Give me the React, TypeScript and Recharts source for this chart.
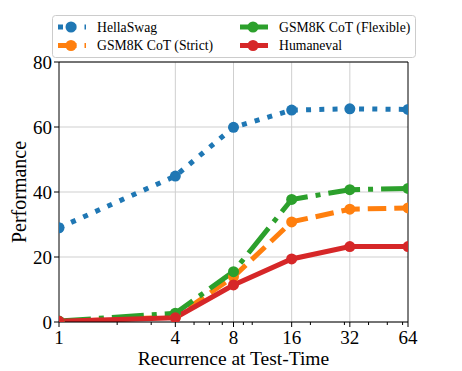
import React from "react";
import {
  LineChart,
  Line,
  XAxis,
  YAxis,
  CartesianGrid,
  ReferenceLine,
  Legend,
} from "recharts";

// Valores (eixo x em escala log, base 2)
const RECURRENCE = [1, 4, 8, 16, 32, 64];
const HELLASWAG = [29.0, 44.9, 59.9, 65.2, 65.6, 65.4];
const GSM8K_STRICT = [0.0, 1.6, 13.9, 30.8, 34.7, 35.1];
const GSM8K_FLEXIBLE = [0.3, 2.7, 15.5, 37.7, 40.7, 41.1];
const HUMANEVAL = [0.2, 1.3, 11.4, 19.4, 23.2, 23.2];

const MAJOR_TICKS = [1, 4, 8, 16, 32, 64];
const MINOR_TICKS = [2, 3, 5, 6, 7, 9, 10, 20, 30, 40, 50, 60];
const GRID_X = [4, 8, 16, 32];
const Y_TICKS = [0, 20, 40, 60, 80];

const FONT = "'Liberation Serif', 'DejaVu Serif', serif";
const LW = 5;

const SERIES = [
  { key: "hellaswag", name: "HellaSwag", color: "#1f77b4", dash: `${LW} ${LW * 1.65}` },
  { key: "strict", name: "GSM8K CoT (Strict)", color: "#ff7f0e", dash: `${LW * 3.7} ${LW * 1.6}` },
  { key: "flexible", name: "GSM8K CoT (Flexible)", color: "#2ca02c", dash: `${LW * 6.4} ${LW * 1.6} ${LW} ${LW * 1.6}` },
  { key: "humaneval", name: "Humaneval", color: "#d62728", dash: undefined as string | undefined },
];

const data = RECURRENCE.map((r, i) => ({
  r,
  hellaswag: HELLASWAG[i],
  strict: GSM8K_STRICT[i],
  flexible: GSM8K_FLEXIBLE[i],
  humaneval: HUMANEVAL[i],
}));

// tick do eixo x: traço maior com rótulo, traço menor sem rótulo
function RecurrenceTick(props: any) {
  const { x, y, payload } = props;
  const major = MAJOR_TICKS.includes(payload.value);
  return (
    <g>
      <line x1={x} x2={x} y1={y} y2={y + (major ? 5 : 3)} stroke="#000" strokeWidth={1} />
      {major && (
        <text x={x} y={y + 8} dy="0.75em" textAnchor="middle" fontSize={19} fill="#000" style={{ fontFamily: FONT }}>
          {payload.value}
        </text>
      )}
    </g>
  );
}

function SeriesLegend() {
  const colX = [6, 188];
  const rowY = [12, 30.5];
  return (
    <svg width={364} height={43} style={{ display: "block", fontFamily: FONT }}>
      <rect x={0.5} y={0.5} width={363} height={42} rx={3} fill="#fff" fillOpacity={0.8} stroke="#cccccc" />
      {SERIES.map((s, i) => {
        const x = colX[Math.floor(i / 2)];
        const y = rowY[i % 2];
        return (
          <g key={s.key}>
            <line x1={x} x2={x + 28} y1={y} y2={y} stroke={s.color} strokeWidth={LW} strokeDasharray={s.dash} />
            <circle cx={x + 13} cy={y} r={5.5} fill={s.color} />
            <text x={x + 39} y={y} dy="0.35em" fontSize={13.7} fill="#000" style={{ fontFamily: FONT }}>
              {s.name}
            </text>
          </g>
        );
      })}
    </svg>
  );
}

export default function App() {
  return (
    <div
      style={{
        position: "absolute",
        left: 0,
        top: 0,
        width: 462,
        height: 371,
        background: "#fff",
        fontFamily: FONT,
      }}
    >
      <LineChart width={462} height={371} data={data} margin={{ top: 62, right: 54, left: 0, bottom: 0 }}>
        <CartesianGrid stroke="#cfcfcf" strokeWidth={1} verticalValues={GRID_X} />
        <XAxis
          dataKey="r"
          type="number"
          scale="log"
          domain={[1, 64]}
          ticks={[...MAJOR_TICKS, ...MINOR_TICKS]}
          allowDataOverflow
          height={49}
          tickSize={0}
          tickMargin={0}
          tickLine={false}
          tick={<RecurrenceTick />}
          axisLine={{ stroke: "#000", strokeWidth: 1 }}
          interval={0}
          label={{
            value: "Recurrence at Test-Time",
            position: "insideBottom",
            offset: 6,
            fontSize: 19.5,
            fill: "#000",
            style: { fontFamily: FONT },
          }}
        />
        <YAxis
          type="number"
          domain={[0, 80]}
          ticks={Y_TICKS}
          allowDataOverflow
          width={59}
          tickSize={5}
          tickMargin={2}
          tickLine={{ stroke: "#000" }}
          axisLine={{ stroke: "#000", strokeWidth: 1 }}
          tick={{ fontSize: 19, fill: "#000", style: { fontFamily: FONT } }}
          label={{
            content: (p: any) => {
              const vb = p.viewBox || { x: 0, y: 62, height: 260 };
              const cx = vb.x + 18.5;
              const cy = vb.y + vb.height / 2;
              return (
                <text
                  transform={`translate(${cx},${cy}) rotate(-90)`}
                  textAnchor="middle"
                  dy="0.35em"
                  fontSize={20}
                  fill="#000"
                  style={{ fontFamily: FONT }}
                >
                  Performance
                </text>
              );
            },
          }}
        />
        {SERIES.map((s) => (
          <Line
            key={s.key}
            dataKey={s.key}
            name={s.name}
            stroke={s.color}
            strokeWidth={LW}
            strokeDasharray={s.dash}
            dot={{ r: 5.5, fill: s.color, stroke: "none", strokeWidth: 0 }}
            activeDot={false}
            isAnimationActive={false}
          />
        ))}
        <ReferenceLine y={80} stroke="#000" strokeWidth={1} />
        <ReferenceLine x={64} stroke="#000" strokeWidth={1} />
        <Legend
          verticalAlign="middle"
          align="center"
          layout="horizontal"
          content={<SeriesLegend />}
          wrapperStyle={{ left: 52, top: 15, width: 364, height: 43 }}
        />
      </LineChart>
    </div>
  );
}
